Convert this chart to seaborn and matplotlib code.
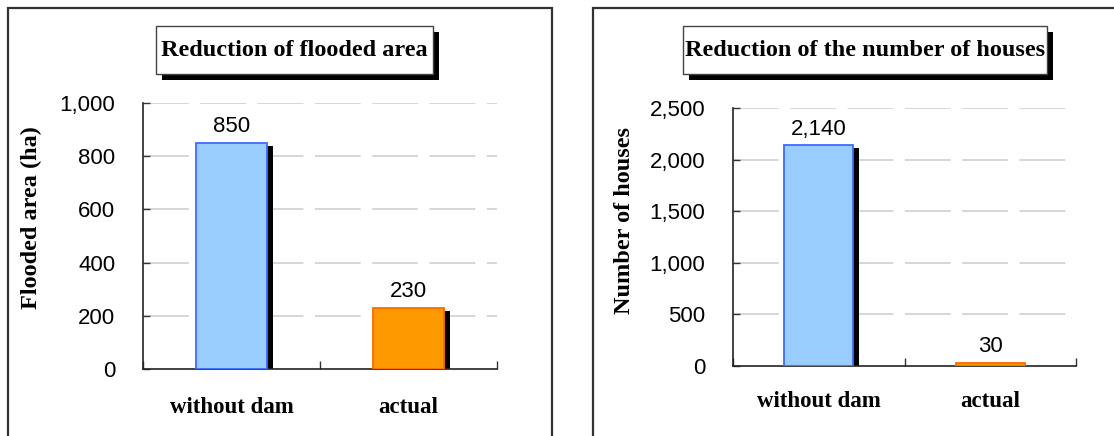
import matplotlib
matplotlib.use("Agg")
import matplotlib.pyplot as plt
import matplotlib.transforms as mtransforms
from matplotlib.patches import Rectangle
from matplotlib.ticker import FuncFormatter, FixedLocator
import seaborn as sns
import pandas as pd

# Data
categories = ["without dam", "actual"]
flooded_area = [850, 230]
houses = [2140, 30]
area_ticks = [0, 200, 400, 600, 800, 1000]
house_ticks = [0, 500, 1000, 1500, 2000, 2500]

fill_colors = ["#99CCFF", "#FF9900"]
edge_colors = ["#3D6BFF", "#FF6A00"]

sns.set_theme(style="white")
plt.rcParams["font.family"] = ["Liberation Sans", "DejaVu Sans"]
plt.rcParams["text.color"] = "black"

W, H = 1114, 436
fig = plt.figure(figsize=(W / 100, H / 100), dpi=100)
fig.patch.set_facecolor("white")

SERIF = ["Liberation Serif", "DejaVu Serif"]


def fx(px):
    return px / W


def fy(py):
    return 1 - py / H


def add_rect(x0, y0, x1, y1, **kw):
    fig.patches.append(Rectangle((fx(x0), fy(y1)), fx(x1) - fx(x0), fy(y0) - fy(y1),
                                 transform=fig.transFigure, **kw))


def title_box(x0, y0, x1, y1, text):
    add_rect(x0 + 6, y0 + 6, x1 + 6, y1 + 6, facecolor="black", edgecolor="none", zorder=1)
    add_rect(x0, y0, x1, y1, facecolor="white", edgecolor="#444444", linewidth=1.0, zorder=2)
    fig.text(fx((x0 + x1) / 2), fy((y0 + y1) / 2 + 1), text, ha="center", va="center",
             fontsize=17.5, fontweight="bold", family=SERIF, color="black", zorder=3)


def panel(rect_px, values, ticks, ylabel, ylabel_xy, label_pad):
    x0, y0, x1, y1 = rect_px
    ax = fig.add_axes([fx(x0), fy(y1), fx(x1) - fx(x0), fy(y0) - fy(y1)])
    df = pd.DataFrame({"category": categories, "value": values})

    # shadow bars, shifted right and down
    sns.barplot(data=df, x="category", y="value", color="black", width=0.4,
                ax=ax, saturation=1, edgecolor="none")
    shift = mtransforms.ScaledTranslation(6 / 100, -3 / 100, fig.dpi_scale_trans)
    for p in ax.patches:
        p.set_transform(ax.transData + shift)
        p.set_zorder(2)
    n_shadow = len(ax.patches)

    # main bars
    sns.barplot(data=df, x="category", y="value", hue="category", palette=fill_colors,
                width=0.4, ax=ax, saturation=1, legend=False, linewidth=1.3)
    for p, ec in zip(ax.patches[n_shadow:], edge_colors):
        p.set_edgecolor(ec)
        p.set_zorder(3)

    ymax = ticks[-1]
    ax.set_ylim(0, ymax)
    ax.set_xlim(-0.5, 1.5)
    ax.set_yticks(ticks)
    ax.yaxis.set_major_formatter(FuncFormatter(lambda v, _: f"{int(v):,}"))
    ax.tick_params(axis="y", direction="in", length=5, width=1, pad=20,
                   labelsize=16, color="#333333", labelcolor="black", left=True)
    for t in ticks[1:]:
        ax.axhline(t, color="#CCCCCC", linewidth=1.1, linestyle=(0, (30, 7.5)), zorder=0)

    ax.set_xticks([0, 1])
    ax.set_xticklabels(categories, family=SERIF, fontweight="bold", fontsize=16.5,
                       color="black")
    ax.xaxis.set_minor_locator(FixedLocator([-0.5, 0.5, 1.5]))
    ax.tick_params(axis="x", which="major", length=0, pad=label_pad)
    ax.tick_params(axis="x", which="minor", direction="in", length=6, width=1,
                   bottom=True, color="#333333")

    for side in ["top", "right"]:
        ax.spines[side].set_visible(False)
    for side in ["left", "bottom"]:
        ax.spines[side].set_color("#222222")
        ax.spines[side].set_linewidth(1.2)
    ax.set_xlabel("")
    ax.set_ylabel("")
    ax.set_facecolor("none")

    for i, v in enumerate(values):
        ax.annotate(f"{v:,}", (i, v), xytext=(0, 4), textcoords="offset points",
                    ha="center", va="bottom", fontsize=16, color="black")

    lx, ly = ylabel_xy
    fig.text(fx(lx), fy(ly), ylabel, rotation=90, ha="center",
             va="center", fontsize=17.5, fontweight="bold", family=SERIF, color="black")
    return ax


# panel frames
add_rect(8, 8, 552, 440, facecolor="none", edgecolor="#333333", linewidth=1.6, zorder=0)
add_rect(593, 8, 1120, 440, facecolor="none", edgecolor="#333333", linewidth=1.6, zorder=0)

title_box(156, 26, 433, 74, "Reduction of flooded area")
title_box(683, 26, 1047, 74, "Reduction of the number of houses")

panel((143, 103, 497, 369), flooded_area, area_ticks, "Flooded area (ha)", (31, 218), 20)
panel((733, 108, 1076, 366), houses, house_ticks, "Number of houses", (625, 220), 18)

fig.savefig("out.png", dpi=100, facecolor="white")
